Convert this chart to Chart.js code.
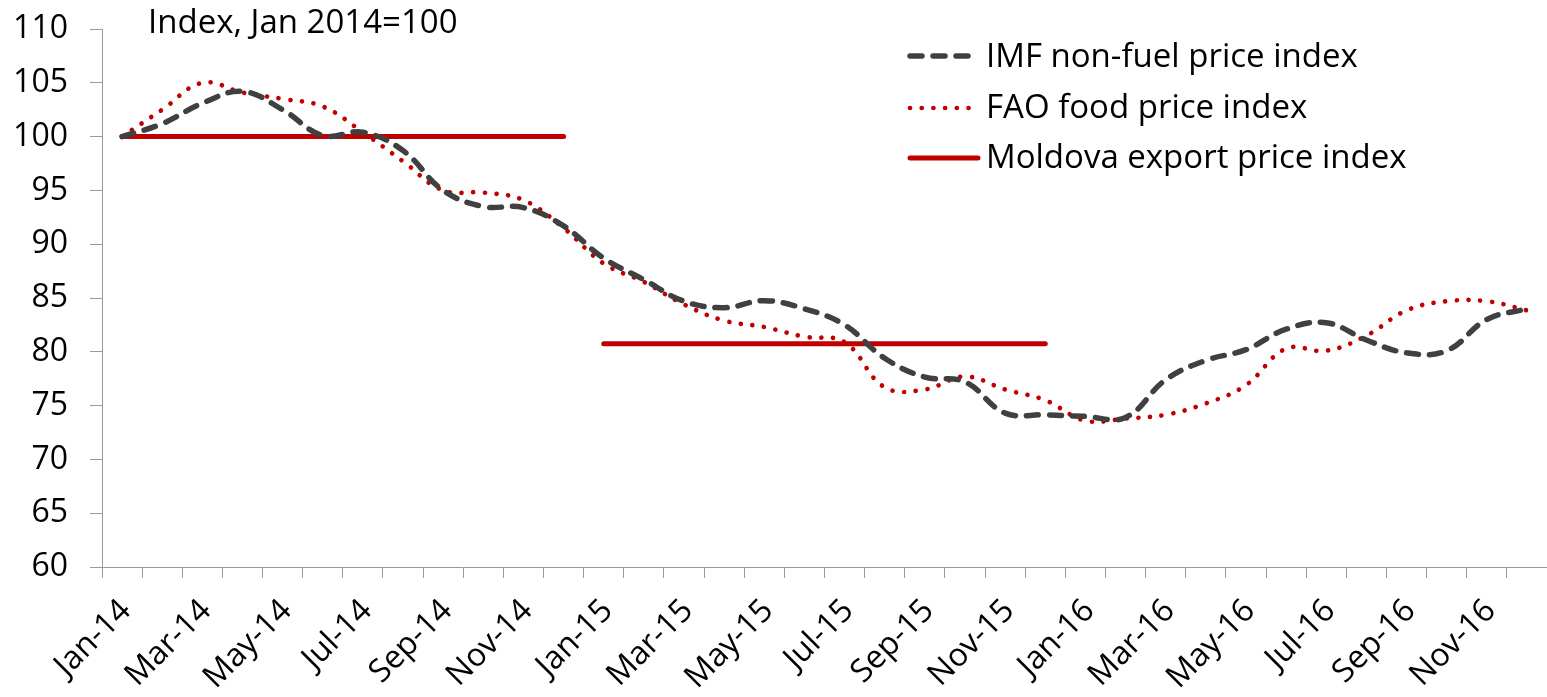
<!DOCTYPE html>
<html>
<head>
<meta charset="utf-8">
<script src="https://cdn.jsdelivr.net/npm/chart.js@4.4.1/dist/chart.umd.min.js"></script>
<style>
  html, body { margin: 0; padding: 0; background: #fff; }
  #wrap { width: 1547px; height: 697px; }
</style>
</head>
<body>
<div id="wrap"><canvas id="chart" width="1547" height="697"></canvas></div>
<script>
// monthly categories, Jan 2014 - Dec 2016
const months = [
  "Jan-14", "Feb-14", "Mar-14", "Apr-14", "May-14", "Jun-14",
  "Jul-14", "Aug-14", "Sep-14", "Oct-14", "Nov-14", "Dec-14",
  "Jan-15", "Feb-15", "Mar-15", "Apr-15", "May-15", "Jun-15",
  "Jul-15", "Aug-15", "Sep-15", "Oct-15", "Nov-15", "Dec-15",
  "Jan-16", "Feb-16", "Mar-16", "Apr-16", "May-16", "Jun-16",
  "Jul-16", "Aug-16", "Sep-16", "Oct-16", "Nov-16", "Dec-16",
];

const imfIndex = [
  100, 101.2, 103.1, 104.2, 102.5, 100.1,
  100.4, 98.7, 95.0, 93.5, 93.4, 91.7,
  88.7, 86.7, 84.7, 84.1, 84.75, 84.0,
  82.5, 79.4, 77.65, 77.2, 74.3, 74.15,
  74.0, 73.9, 77.4, 79.2, 80.2, 82.1,
  82.7, 81.1, 79.9, 80.1, 83.0, 84.0,
];

const faoIndex = [
  100, 102.5, 105.0, 104.1, 103.5, 102.8,
  100.4, 97.7, 95.0, 94.8, 94.1, 91.5,
  88.2, 86.5, 84.4, 82.9, 82.3, 81.4,
  80.9, 76.7, 76.5, 77.7, 76.5, 75.5,
  73.6, 73.8, 74.15, 75.2, 76.9, 80.3,
  80.1, 81.5, 83.85, 84.7, 84.7, 83.85,
];

// annual averages, no value yet for 2016
const moldovaIndex = [
  100, 100, 100, 100, 100, 100, 100, 100, 100, 100, 100, 100,
  80.75, 80.75, 80.75, 80.75, 80.75, 80.75, 80.75, 80.75, 80.75, 80.75, 80.75, 80.75,
  null, null, null, null, null, null, null, null, null, null, null, null,
];

const seriesNames = ["IMF non-fuel price index", "FAO food price index", "Moldova export price index"];
const unitNote = "Index, Jan 2014=100";
const yMin = 60;
const yMax = 110;
const yStep = 5;

const axisGray = "#9a9a9a";
const darkRed = "#c00000";
const fontFamily = "'Open Sans', sans-serif";

Chart.defaults.font.family = fontFamily;
Chart.defaults.font.size = 32;
Chart.defaults.color = "#000";

// legend drawn by hand at the top right, like the original
const cornerLegend = {
  id: "cornerLegend",
  afterDraw(chart) {
    const ctx = chart.ctx;
    const lineY = [56, 108, 158];
    const textY = [67, 118, 168];
    ctx.save();
    chart.data.datasets.forEach((ds, i) => {
      ctx.beginPath();
      ctx.strokeStyle = ds.borderColor;
      ctx.lineWidth = ds.borderWidth;
      ctx.lineCap = "round";
      ctx.setLineDash(ds.borderDash || []);
      ctx.moveTo(910, lineY[i]);
      ctx.lineTo(i === 2 ? 978 : 970, lineY[i]);
      ctx.stroke();
      ctx.setLineDash([]);
      ctx.fillStyle = "#000";
      ctx.font = "33px " + fontFamily;
      ctx.textBaseline = "alphabetic";
      ctx.fillText(ds.label, 986, textY[i]);
    });
    ctx.font = "33px " + fontFamily;
    ctx.fillText(unitNote, 148, 33);
    ctx.restore();
  },
};

new Chart(document.getElementById("chart"), {
  type: "line",
  plugins: [cornerLegend],
  data: {
    labels: months,
    datasets: [
      {
        label: seriesNames[0],
        data: imfIndex,
        borderColor: "#404040",
        borderWidth: 5.5,
        borderDash: [12, 11],
        borderCapStyle: "round",
      },
      {
        label: seriesNames[1],
        data: faoIndex,
        borderColor: darkRed,
        borderWidth: 4.7,
        borderDash: [0.01, 11.7],
        borderCapStyle: "round",
      },
      {
        label: seriesNames[2],
        data: moldovaIndex,
        borderColor: darkRed,
        borderWidth: 5,
        borderCapStyle: "round",
        tension: 0,
        // no joining stroke between the two yearly levels
        segment: {
          borderColor: (c) => (c.p0.parsed.y !== c.p1.parsed.y ? "rgba(0,0,0,0)" : undefined),
        },
      },
    ],
  },
  options: {
    responsive: false,
    animation: false,
    layout: {
      padding: { top: 29, right: 0, left: 0, bottom: 0 },
    },
    elements: {
      point: { radius: 0 },
      line: { tension: 0.4, fill: false },
    },
    plugins: {
      legend: { display: false },
      tooltip: { enabled: false },
    },
    scales: {
      x: {
        offset: true,
        grid: {
          offset: true,
          drawOnChartArea: false,
          color: axisGray,
          tickLength: 11,
        },
        border: { color: axisGray },
        ticks: {
          autoSkip: false,
          minRotation: 45,
          maxRotation: 45,
          padding: 14,
          labelOffset: 4,
          callback: function (value, index) {
            return index % 2 === 0 ? months[index] : "";
          },
        },
        afterFit: (scale) => {
          scale.height = 130;
          scale.paddingRight = 0;
          scale.paddingLeft = 0;
        },
      },
      y: {
        min: yMin,
        max: yMax,
        grid: {
          drawOnChartArea: false,
          color: axisGray,
          tickLength: 12,
        },
        border: { color: axisGray },
        ticks: {
          stepSize: yStep,
          padding: 22,
        },
        afterFit: (scale) => {
          scale.width = 102;
          scale.paddingTop = 0;
          scale.paddingBottom = 0;
        },
      },
    },
  },
});
</script>
</body>
</html>
